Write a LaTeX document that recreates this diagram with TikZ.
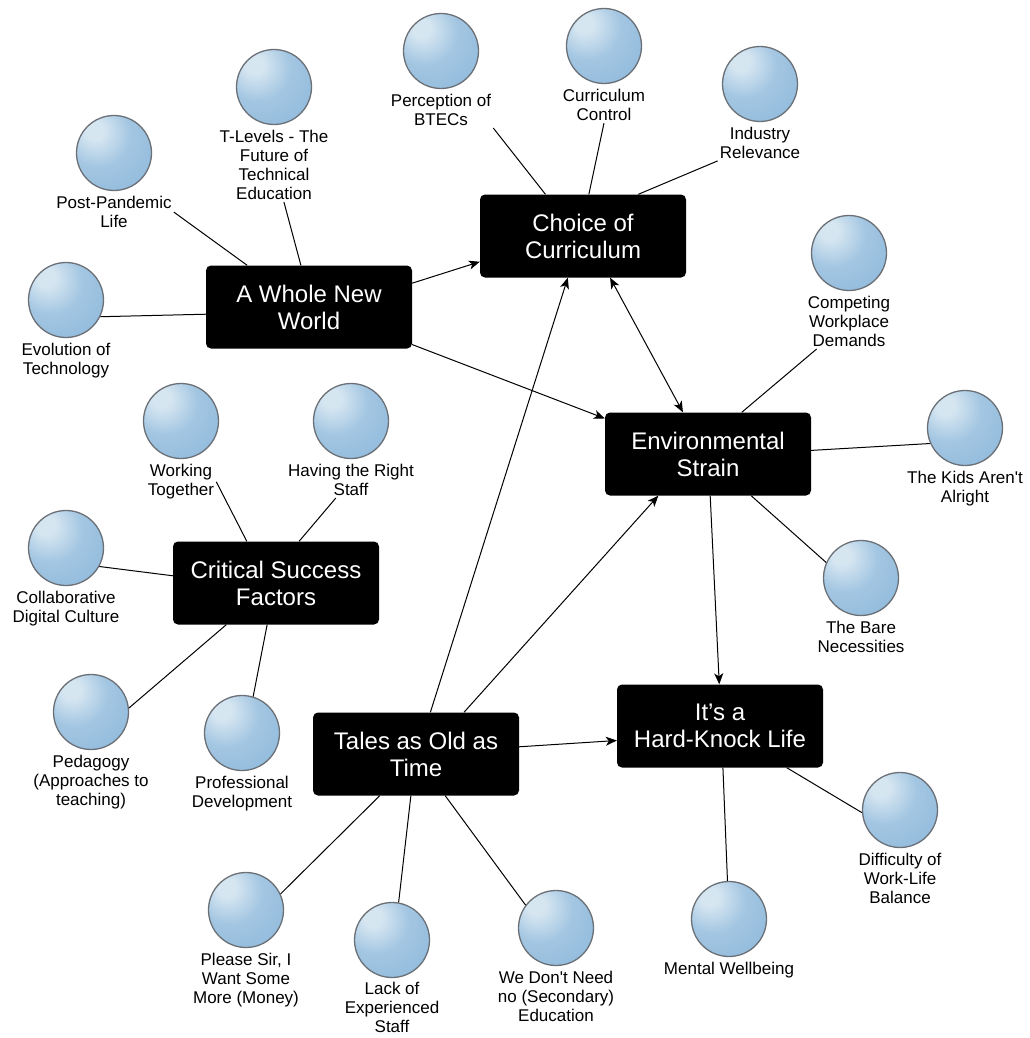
\documentclass[tikz,border=0pt]{standalone}
\usepackage{fontspec}
\setmainfont{Liberation Sans}
\usetikzlibrary{arrows.meta, positioning}
\definecolor{ballhi}{HTML}{D6E6F1}
\definecolor{ballmid}{HTML}{A3C6E2}
\definecolor{ballbase}{HTML}{8FB9DB}
\definecolor{balledge}{HTML}{79A7CF}
\definecolor{ballrim}{HTML}{6A7076}
\pgfdeclareradialshading{sphere}{\pgfpoint{-14bp}{16bp}}{color(0bp)=(ballhi); color(6bp)=(ballhi); color(22bp)=(ballmid); color(44bp)=(ballbase); color(64bp)=(balledge); color(100bp)=(balledge)}

\begin{document}
\begin{tikzpicture}[
    x=1pt, y=-1pt,
    >={Stealth[length=11pt, width=9pt, inset=3pt]},
    box/.style={fill=black, rounded corners=5pt, minimum width=206pt, minimum height=83pt, inner sep=0pt, text=white, align=center, font=\fontsize{24}{27}\selectfont},
    ball/.style={circle, draw=ballrim, line width=1.3pt, shading=sphere, minimum size=75pt, inner sep=0pt},
    lbl/.style={align=center, inner sep=2pt, font=\fontsize{17}{19}\selectfont},
    link/.style={line width=1pt},
    arr/.style={->, line width=1pt}
]
\useasboundingbox (0,0) rectangle (1029,1038);

\node[box] (choice) at (583,236) {Choice of\\Curriculum};
\node[box] (newworld) at (309,307) {A Whole New\\World};
\node[box] (strain) at (708,454) {Environmental\\Strain};
\node[box] (success) at (276,583) {Critical Success\\Factors};
\node[box] (tales) at (416,754) {Tales as Old as\\Time};
\node[box] (hardknock) at (720,726) {It’s a\\Hard-Knock Life};

\node[ball] (btec) at (441,51) {};
\node[lbl, below=3pt of btec] (btec-t) {Perception of\\BTECs};
\node[ball] (control) at (604,46) {};
\node[lbl, below=3pt of control] (control-t) {Curriculum\\Control};
\node[ball] (industry) at (760,84) {};
\node[lbl, below=3pt of industry] (industry-t) {Industry\\Relevance};
\node[ball] (tlevels) at (274,87) {};
\node[lbl, below=3pt of tlevels] (tlevels-t) {T-Levels - The\\Future of\\Technical\\Education};
\node[ball] (pandemic) at (114,153) {};
\node[lbl, below=3pt of pandemic] (pandemic-t) {Post-Pandemic\\Life};
\node[ball] (evolution) at (66,300) {};
\node[lbl, below=3pt of evolution] (evolution-t) {Evolution of\\Technology};
\node[ball] (competing) at (849,253) {};
\node[lbl, below=3pt of competing] (competing-t) {Competing\\Workplace\\Demands};
\node[ball] (kids) at (965,428) {};
\node[lbl, below=3pt of kids] (kids-t) {The Kids Aren\textquotesingle t\\Alright};
\node[ball] (bare) at (861,578) {};
\node[lbl, below=3pt of bare] (bare-t) {The Bare\\Necessities};
\node[ball] (worklife) at (900,810) {};
\node[lbl, below=3pt of worklife] (worklife-t) {Difficulty of\\Work-Life\\Balance};
\node[ball] (wellbeing) at (729,919) {};
\node[lbl, below=3pt of wellbeing] (wellbeing-t) {Mental Wellbeing};
\node[ball] (secondary) at (556,928) {};
\node[lbl, below=3pt of secondary] (secondary-t) {We Don\textquotesingle t Need\\no (Secondary)\\Education};
\node[ball] (lackstaff) at (392,940) {};
\node[lbl, below=2pt of lackstaff] (lackstaff-t) {Lack of\\Experienced\\Staff};
\node[ball] (money) at (246,910) {};
\node[lbl, below=3pt of money] (money-t) {Please Sir, I\\Want Some\\More (Money)};
\node[ball] (profdev) at (242,733) {};
\node[lbl, below=3pt of profdev] (profdev-t) {Professional\\Development};
\node[ball] (pedagogy) at (91,712) {};
\node[lbl, below=3pt of pedagogy] (pedagogy-t) {Pedagogy\\(Approaches to\\teaching)};
\node[ball] (digital) at (66,548) {};
\node[lbl, below=3pt of digital] (digital-t) {Collaborative\\Digital Culture};
\node[ball] (together) at (181,421) {};
\node[lbl, below=3pt of together] (together-t) {Working\\Together};
\node[ball] (rightstaff) at (351,421) {};
\node[lbl, below=3pt of rightstaff] (rightstaff-t) {Having the Right\\Staff};

\draw[link] (btec-t.south east) -- (choice.132);
\draw[link] (control-t.south) -- (choice.82);
\draw[link] (industry-t) -- (choice.37);
\draw[link] (tlevels-t) -- (newworld.101);
\draw[link] (pandemic-t.east) -- (newworld.146);
\draw[link] (evolution.-26) -- (newworld.184);
\draw[link] (competing-t) -- (strain.51);
\draw[link] (kids.204) -- (strain.2);
\draw[link] (bare.156) -- (strain.316);
\draw[link] (worklife.184) -- (hardknock.328);
\draw[link] (wellbeing) -- (hardknock.274);
\draw[link] (secondary.143) -- (tales.305);
\draw[link] (lackstaff.80) -- (tales.263);
\draw[link] (money.25) -- (tales.229);
\draw[link] (profdev.73) -- (success.258);
\draw[link] (pedagogy.6) -- (success.220);
\draw[link] (digital.-29) -- (success.176);
\draw[link] (together-t.east) -- (success.125);
\draw[link] (rightstaff-t) -- (success.61);

\draw[arr] (newworld.13) -- (choice.194);
\draw[arr] (newworld.340) -- (strain.161);
\draw[arr, <->] (choice.303) -- (strain.121);
\draw[arr] (strain.273) -- (hardknock.91);
\draw[arr] (tales.71) -- (choice.250);
\draw[arr] (tales.41) -- (strain.220);
\draw[arr] (tales.4) -- (hardknock.188);
\end{tikzpicture}
\end{document}
